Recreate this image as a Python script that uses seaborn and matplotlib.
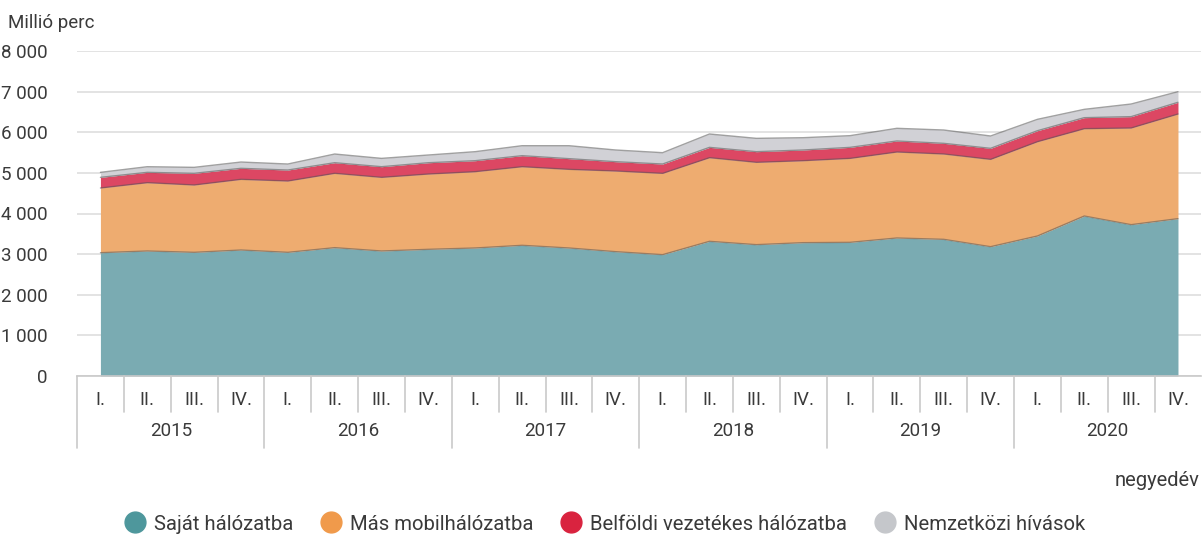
import numpy as np
import pandas as pd
import matplotlib
matplotlib.use("Agg")
import matplotlib.pyplot as plt
import matplotlib.transforms as mtransforms
from matplotlib.lines import Line2D
import seaborn as sns

# ---------------- data ----------------
years = ["2015", "2016", "2017", "2018", "2019", "2020"]
quarters = ["I.", "II.", "III.", "IV."]
series_names = ["Saját hálózatba", "Más mobilhálózatba",
                "Belföldi vezetékes hálózatba", "Nemzetközi hívások"]

sajat = [3035, 3077, 3044, 3101, 3044, 3159, 3077, 3118,
         3151, 3217, 3151, 3060, 2987, 3315, 3233, 3282,
         3290, 3397, 3364, 3183, 3446, 3938, 3725, 3873]
mas_mobil = [1593, 1682, 1658, 1740, 1756, 1830, 1813, 1854,
             1879, 1935, 1936, 1986, 2002, 2059, 2027, 2018,
             2067, 2117, 2101, 2150, 2322, 2150, 2380, 2576]
belfoldi = [262, 254, 287, 271, 270, 261, 262, 278,
            270, 271, 263, 229, 229, 254, 262, 263,
            271, 271, 262, 271, 270, 271, 279, 288]
nemzetkozi = [123, 139, 147, 155, 148, 214, 205, 190,
              222, 246, 319, 288, 279, 329, 328, 303,
              288, 312, 328, 304, 280, 205, 311, 261]

y_ticks = [0, 1000, 2000, 3000, 4000, 5000, 6000, 7000, 8000]
y_label = "Millió perc"
x_label = "negyedév"

# ---------------- style ----------------
fill_colors = ["#7AABB2", "#EEAC70", "#DC4763", "#D1D1D6"]
legend_colors = ["#4E979C", "#F09A4B", "#D9233F", "#C5C7CB"]
text_color = "#3a3a3a"
div_color = "#c9c9c9"

sns.set_theme(style="white")
plt.rcParams["font.family"] = ["Roboto", "DejaVu Sans"]

W, H = 1202, 536
fig = plt.figure(figsize=(W / 100, H / 100), dpi=100)
ax_left, ax_right, ax_top, ax_bottom = 77, 1201.4, 51, 376
ax = fig.add_axes([ax_left / W, 1 - ax_bottom / H,
                   (ax_right - ax_left) / W, (ax_bottom - ax_top) / H])

n = len(sajat)
x = np.arange(n)
labels_q = [q for _ in years for q in quarters]
df = pd.DataFrame({"x": x, "label": labels_q, series_names[0]: sajat,
                   series_names[1]: mas_mobil, series_names[2]: belfoldi,
                   series_names[3]: nemzetkozi})

values = [df[s].to_numpy() for s in series_names]
ax.stackplot(df["x"], *values, colors=fill_colors, linewidth=0, zorder=2)

# thin outlines on stacked boundaries
cum = np.cumsum(np.vstack(values), axis=0)
for k in range(cum.shape[0]):
    sns.lineplot(x=df["x"], y=cum[k], ax=ax, color="#555555", alpha=0.55,
                 linewidth=1.0, zorder=3, legend=False)

ax.set_xlim(-0.5, n - 0.5)
ax.set_ylim(0, 8000)
ax.set_yticks(y_ticks)
ax.set_yticklabels([f"{v:,}".replace(",", " ") for v in y_ticks],
                   fontsize=13.5, color=text_color)
ax.tick_params(axis="y", length=0, pad=21)
ax.set_xticks([])
ax.set_xlabel("")
ax.set_ylabel("")
ax.grid(axis="y", color="#e3e3e3", linewidth=1.4, zorder=0)
ax.set_axisbelow(True)
for side in ["top", "right", "left"]:
    ax.spines[side].set_visible(False)
ax.spines["bottom"].set_color(div_color)
ax.spines["bottom"].set_linewidth(1.2)

# ---------------- two-level category axis ----------------
axh = ax_bottom - ax_top
trans = mtransforms.blended_transform_factory(ax.transData, ax.transAxes)
q_len = 36 / axh
y_len = 72 / axh
for b in range(n):
    xb = b - 0.5
    ln = y_len if b % 4 == 0 else q_len
    ax.plot([xb, xb], [0, -ln], transform=trans, color=div_color,
            linewidth=1.2, clip_on=False)
for i, lab in enumerate(labels_q):
    ax.text(i, -24 / axh, lab, transform=trans, ha="center", va="center",
            fontsize=13.5, color=text_color)
for j, yr in enumerate(years):
    ax.text(j * 4 + 1.5, -55 / axh, yr, transform=trans, ha="center",
            va="center", fontsize=13.5, color=text_color)

fig.text(8 / W, 1 - 23 / H, y_label, ha="left", va="center",
         fontsize=13.5, color=text_color)
fig.text(1200 / W, 1 - 481 / H, x_label, ha="right", va="center",
         fontsize=14.5, color=text_color)

handles = [Line2D([0], [0], marker="o", linestyle="", markersize=15,
                  markerfacecolor=c, markeredgecolor=c) for c in legend_colors]
fig.legend(handles, series_names, loc="center", ncol=4,
           bbox_to_anchor=(605 / W, 1 - 524 / H), frameon=False,
           fontsize=14.6, handletextpad=0.45, columnspacing=1.35,
           labelcolor=text_color, handlelength=1.0)

fig.savefig("out.png", dpi=100)
